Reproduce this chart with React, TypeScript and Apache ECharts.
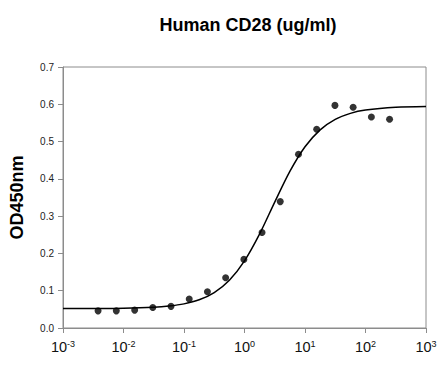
import React, { useEffect, useRef } from "react";
import * as echarts from "echarts";

const titleText = "Human CD28 (ug/ml)";
const yAxisName = "OD450nm";

// Measured concentrations (ug/ml) and OD450 readings
const concentrations = [
  0.0038, 0.0076, 0.0153, 0.0305, 0.061, 0.122, 0.244, 0.488, 0.977, 1.95, 3.9,
  7.8, 15.6, 31.25, 62.5, 125, 250,
];
const odValues = [
  0.046, 0.046, 0.048, 0.055, 0.058, 0.078, 0.097, 0.135, 0.184, 0.256, 0.339,
  0.466, 0.533, 0.597, 0.592, 0.566, 0.56,
];

// Fitted curve
const curveX = [
  0.001, 0.00316, 0.01, 0.0316, 0.0562, 0.1, 0.178, 0.316, 0.562, 1, 1.78, 3.16,
  5.62, 10, 17.8, 31.6, 56.2, 100, 316, 1000,
];
const curveY = [
  0.0521, 0.0523, 0.053, 0.0556, 0.0588, 0.0647, 0.0756, 0.095, 0.1282, 0.1802,
  0.2525, 0.3376, 0.4199, 0.486, 0.5315, 0.5595, 0.5757, 0.5846, 0.5921, 0.5942,
];

const yTicks = [0, 0.1, 0.2, 0.3, 0.4, 0.5, 0.6, 0.7];

export default function App() {
  const ref = useRef<HTMLDivElement>(null);
  useEffect(() => {
    if (!ref.current) return;
    const chart = echarts.init(ref.current, undefined, { renderer: "svg" });
    const font = "Liberation Sans, Arial, sans-serif";
    chart.setOption({
      animation: false,
      backgroundColor: "#fff",
      title: {
        text: titleText,
        left: 243,
        top: 11,
        textAlign: "center",
        textStyle: { fontFamily: font, fontSize: 18, fontWeight: "bold", color: "#000" },
      },
      grid: {
        left: 63,
        right: 19,
        top: 67,
        bottom: 37,
        show: true,
        borderColor: "#8c8c8c",
        borderWidth: 1,
        backgroundColor: "transparent",
      },
      xAxis: {
        type: "log",
        logBase: 10,
        min: 0.001,
        max: 1000,
        axisLine: { show: true, lineStyle: { color: "#8c8c8c" } },
        axisTick: { show: true, length: 5, inside: false, lineStyle: { color: "#8c8c8c" } },
        minorTick: { show: false },
        splitLine: { show: false },
        axisLabel: {
          margin: 11,
          color: "#000",
          fontFamily: font,
          formatter: (v: number) => {
            const e = Math.round(Math.log10(v));
            return "{b|10}{s|" + e + "}";
          },
          rich: {
            b: { fontSize: 14.5, fontFamily: font, color: "#111", lineHeight: 16 },
            s: {
              fontSize: 9,
              fontFamily: font,
              color: "#111",
              verticalAlign: "top",
              lineHeight: 16,
              padding: [0, 0, 8, 0],
            },
          },
        },
      },
      yAxis: {
        type: "value",
        min: 0,
        max: 0.7,
        interval: 0.1,
        name: yAxisName,
        nameLocation: "middle",
        nameGap: 37,
        nameTextStyle: { fontFamily: font, fontSize: 18, fontWeight: "bold", color: "#000" },
        axisLine: { show: true, lineStyle: { color: "#8c8c8c" } },
        axisTick: { show: true, length: 5, inside: false, lineStyle: { color: "#8c8c8c" } },
        splitLine: { show: false },
        axisLabel: {
          margin: 9,
          fontSize: 10,
          fontFamily: font,
          color: "#222",
          formatter: (v: number) => {
            const t = yTicks.find((y) => Math.abs(y - v) < 1e-9);
            return (t !== undefined ? t : v).toFixed(1);
          },
        },
      },
      series: [
        {
          type: "line",
          data: curveX.map((x, i) => [x, curveY[i]]),
          smooth: 0.3,
          showSymbol: false,
          symbol: "none",
          lineStyle: { color: "#000", width: 1.5 },
          z: 2,
        },
        {
          type: "scatter",
          data: concentrations.map((x, i) => [x, odValues[i]]),
          symbol: "circle",
          symbolSize: 7,
          itemStyle: { color: "#000" },
          z: 3,
        },
      ],
    });
    return () => chart.dispose();
  }, []);
  return (
    <div
      ref={ref}
      style={{ position: "fixed", left: 0, top: 0, width: 445, height: 365, background: "#fff" }}
    />
  );
}
